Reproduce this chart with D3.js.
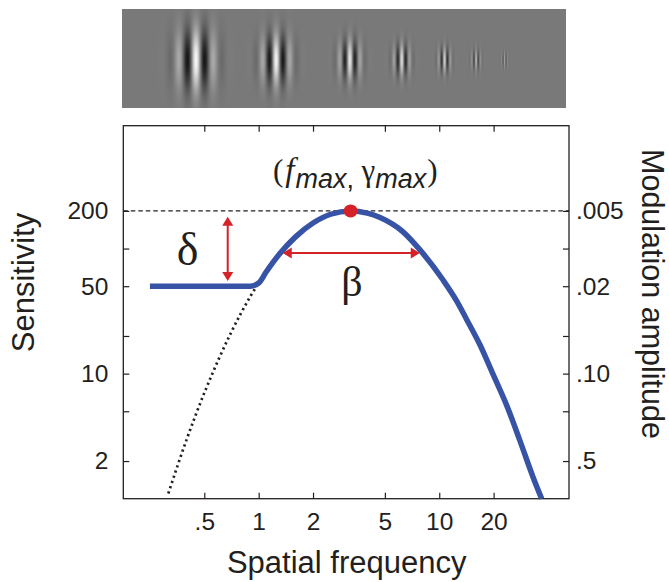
<!DOCTYPE html>
<html><head><meta charset="utf-8">
<script src="https://cdn.jsdelivr.net/npm/d3@7"></script>
<style>
body{margin:0;background:#fff}
svg{display:block}
text{font-family:"Liberation Sans",Arial,Helvetica,sans-serif;fill:#231f20}
</style>
</head><body>
<script>
// ---------- data ----------
// model contrast-sensitivity curve (truncated log-parabola)
const curveFreq = [0.25, 0.5, 0.9, 1.0, 1.1, 1.3, 1.6, 2.0, 2.5, 3.23, 4.0, 4.7, 6.3, 7.8, 10.5, 12.5, 14.2, 16.8, 19.9, 23.6, 28, 33, 36.9];
const curveSens = [50, 50, 50, 53, 65, 90, 124, 160, 188, 200, 192, 177, 136, 98, 56, 38, 27, 17, 9.8, 5.6, 2.9, 1.5, 1.0];
// un-truncated low-frequency branch (dotted)
const dotFreq = [0.316, 0.4, 0.5, 0.6, 0.7, 0.8, 0.9, 1.0, 1.1, 1.3];
const dotSens = [1.1, 3.0, 7.0, 13, 21, 30.6, 41.5, 53, 65, 90];
// peak (f_max, gamma_max)
const peakFreq = 3.23, peakSens = 200;
// annotation arrows (data units)
const deltaArrow = {f: 0.674, s1: 180, s2: 55};
const betaArrow = {f1: 1.36, f2: 7.8, s: 92};
// axes
const xTicks = [0.5, 1, 2, 5, 10, 20];
const xLabels = [".5", "1", "2", "5", "10", "20"];
const yTicksMajor = [2, 10, 50, 200];
const yTicksMinor = [5, 20, 100];
const yLabelsLeft = ["2", "10", "50", "200"];
const yLabelsRight = [".5", ".10", ".02", ".005"];
// gabor stimuli strip
const gaborFreq = [0.45, 1.25, 3.2, 6.2, 10.7, 16, 23];
const gaborContrast = [1.0, 0.95, 0.85, 0.75, 0.65, 0.45, 0.3];

// ---------- layout ----------
const W = 669, H = 582;
const svg = d3.select("body").append("svg").attr("width", W).attr("height", H);

const x = d3.scaleLog().domain([0.178, 52.3]).range([123.3, 569]);
const y = d3.scaleLog().domain([1, 960]).range([498.7, 125.7]);
const [x0, x1] = x.range();
const [yb, yt] = y.range();
const ink = "#231f20", blue = "#3753a5", red = "#d42228";

// ---------- gabor strip ----------
(function(){
  const gx = 122, gy = 9, gw = 444, gh = 99;
  const canvas = document.createElement("canvas");
  canvas.width = gw; canvas.height = gh;
  const ctx = canvas.getContext("2d");
  const img = ctx.createImageData(gw, gh);
  const period = d3.scaleLog().domain([0.45, 23]).range([18, 3.2]);
  const patches = gaborFreq.map((f, i) => {
    const p = period(f);
    return {cx: x(f) - gx, cy: 51, p, sx: 0.7 * p, sy: 1.05 * p + 2, a: gaborContrast[i]};
  });
  const base = 121;
  for (let j = 0; j < gh; j++) {
    for (let i = 0; i < gw; i++) {
      let v = base;
      for (const g of patches) {
        const dx = i + 0.5 - g.cx, dy = j + 0.5 - g.cy;
        const e = Math.exp(-dx*dx/(2*g.sx*g.sx) - dy*dy/(2*g.sy*g.sy));
        if (e < 1e-4) continue;
        v += 125 * g.a * e * Math.cos(2*Math.PI*dx/g.p);
      }
      v = Math.max(0, Math.min(255, v));
      const k = (j*gw + i)*4;
      img.data[k] = img.data[k+1] = img.data[k+2] = v;
      img.data[k+3] = 255;
    }
  }
  ctx.putImageData(img, 0, 0);
  svg.append("image").attr("x", gx).attr("y", gy).attr("width", gw).attr("height", gh)
    .attr("href", canvas.toDataURL());
})();

// ---------- axes ----------
const fmtLeft = d => { const i = yTicksMajor.indexOf(d); return i < 0 ? "" : yLabelsLeft[i]; };
const fmtRight = d => { const i = yTicksMajor.indexOf(d); return i < 0 ? "" : yLabelsRight[i]; };
const fmtX = d => xLabels[xTicks.indexOf(d)];
const yAll = yTicksMajor.concat(yTicksMinor);

function styleAxis(g){
  g.select(".domain").remove();
  g.selectAll(".tick line").attr("stroke", ink).attr("stroke-width", 1.2);
  g.selectAll(".tick text").attr("fill", ink).style("font-size", "24.5px")
    .style("font-family", '"Liberation Sans",Arial,sans-serif');
}
svg.append("g").attr("transform", `translate(${x0},0)`)
  .call(d3.axisLeft(y).tickValues(yAll).tickSize(-6).tickSizeOuter(0).tickPadding(15).tickFormat(fmtLeft))
  .call(styleAxis);
svg.append("g").attr("transform", `translate(${x1},0)`)
  .call(d3.axisRight(y).tickValues(yAll).tickSize(-6).tickSizeOuter(0).tickPadding(7).tickFormat(fmtRight))
  .call(styleAxis);
svg.append("g").attr("transform", `translate(0,${yb})`)
  .call(d3.axisBottom(x).tickValues(xTicks).tickSize(-6).tickSizeOuter(0).tickPadding(14).tickFormat(fmtX))
  .call(styleAxis);
svg.append("g").attr("transform", `translate(0,${yt})`)
  .call(d3.axisTop(x).tickValues(xTicks).tickSize(-6).tickSizeOuter(0).tickFormat(""))
  .call(styleAxis);

svg.append("rect").attr("x", x0).attr("y", yt).attr("width", x1 - x0).attr("height", yb - yt)
  .attr("fill", "none").attr("stroke", ink).attr("stroke-width", 1.3);

// dashed reference line at gamma_max
svg.append("line").attr("x1", x0).attr("x2", x1).attr("y1", y(peakSens)).attr("y2", y(peakSens))
  .attr("stroke", ink).attr("stroke-width", 1.1).attr("stroke-dasharray", "4.5,3");

// ---------- curves ----------
const line = d3.line().x(d => x(d[0])).y(d => y(d[1])).curve(d3.curveMonotoneX);
svg.append("path").datum(d3.zip(dotFreq, dotSens)).attr("d", line)
  .attr("fill", "none").attr("stroke", ink).attr("stroke-width", 2.7).attr("stroke-dasharray", "2.2,3.3");
svg.append("path").datum(d3.zip(curveFreq, curveSens)).attr("d", line)
  .attr("fill", "none").attr("stroke", blue).attr("stroke-width", 5.5).attr("stroke-linejoin", "round");

// ---------- annotations ----------
function arrowHead(tx, ty, dx, dy){ // tip at (tx,ty), pointing direction (dx,dy)
  const L = 9, Wd = 5.5, px = -dy, py = dx;
  const bx = tx - dx*L, by = ty - dy*L;
  svg.append("path").attr("d", `M${tx},${ty}L${bx+px*Wd},${by+py*Wd}L${bx-px*Wd},${by-py*Wd}Z`).attr("fill", red);
}
{
  const ax = x(deltaArrow.f), ay1 = y(deltaArrow.s1), ay2 = y(deltaArrow.s2);
  svg.append("line").attr("x1", ax).attr("x2", ax).attr("y1", ay1 + 6).attr("y2", ay2 - 6)
    .attr("stroke", red).attr("stroke-width", 2);
  arrowHead(ax, ay1, 0, -1); arrowHead(ax, ay2, 0, 1);
  const bx1 = x(betaArrow.f1), bx2 = x(betaArrow.f2), by = y(betaArrow.s);
  svg.append("line").attr("x1", bx1 + 6).attr("x2", bx2 - 6).attr("y1", by).attr("y2", by)
    .attr("stroke", red).attr("stroke-width", 2);
  arrowHead(bx1, by, -1, 0); arrowHead(bx2, by, 1, 0);
}
svg.append("ellipse").attr("cx", x(peakFreq)).attr("cy", y(peakSens)).attr("rx", 7).attr("ry", 6.5).attr("fill", red);

svg.append("text").attr("x", 187.5).attr("y", 265).attr("text-anchor", "middle")
  .style("font-family", '"Liberation Serif","Times New Roman",serif').style("font-size", "46px").text("δ");
svg.append("text").attr("x", 352).attr("y", 296).attr("text-anchor", "middle")
  .style("font-family", '"Liberation Serif","Times New Roman",serif').style("font-size", "42px").text("β");

{
  const t = svg.append("text").attr("x", 273).attr("y", 181);
  const serif = '"Liberation Serif","Times New Roman",serif', sans = '"Liberation Sans",Arial,sans-serif';
  t.append("tspan").style("font-family", serif).style("font-size", "31px").text("(");
  t.append("tspan").attr("dx", 2).style("font-family", serif).style("font-style", "italic").style("font-size", "33px").text("f");
  t.append("tspan").attr("dx", 1).attr("dy", 7).style("font-family", sans).style("font-style", "italic").style("font-size", "27px").text("max");
  t.append("tspan").style("font-family", sans).style("font-size", "27px").text(", ");
  t.append("tspan").attr("dy", -7).style("font-family", serif).style("font-size", "31px").text("γ");
  t.append("tspan").attr("dy", 7).style("font-family", sans).style("font-style", "italic").style("font-size", "27px").text("max");
  t.append("tspan").attr("dy", -7).attr("dx", 1).style("font-family", serif).style("font-size", "31px").text(")");
}

// ---------- axis titles ----------
svg.append("text").attr("x", (x0 + x1) / 2 + 0.5).attr("y", 573).attr("text-anchor", "middle")
  .style("font-size", "31px").text("Spatial frequency");
svg.append("text").attr("transform", "translate(34,282.5) rotate(-90)").attr("text-anchor", "middle")
  .style("font-size", "31px").text("Sensitivity");
svg.append("text").attr("transform", "translate(642,294) rotate(90)").attr("text-anchor", "middle")
  .style("font-size", "30.5px").text("Modulation amplitude");
</script>
</body></html>
